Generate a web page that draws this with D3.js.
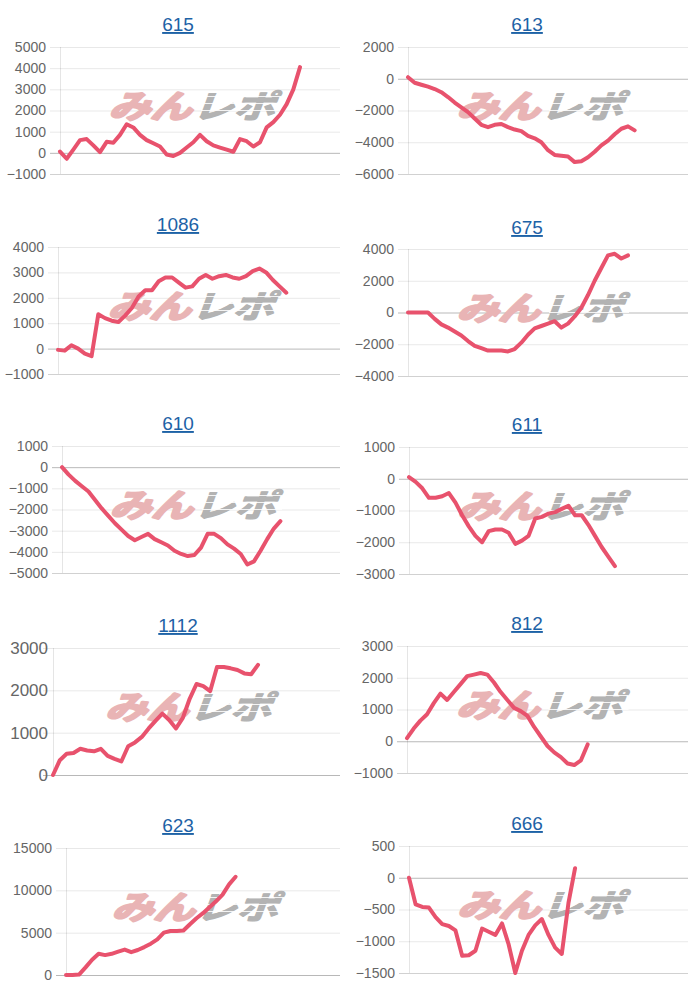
<!DOCTYPE html>
<html><head><meta charset="utf-8">
<script src="https://cdn.jsdelivr.net/npm/d3@7"></script>
<style>
html,body{margin:0;padding:0;background:#fff;}
svg{display:block;}
</style></head>
<body>
<svg id="c" width="700" height="1000"></svg>
<script>
// ---------- data ----------
const titles = ["615","613","1086","675","610","611","1112","812","623","666"];
const SLOTS = 43; // number of x-axis slots (labels) per chart

const values615 = [60,-280,150,600,650,350,30,520,480,850,1350,1200,850,600,450,300,-80,-150,0,250,500,850,550,350,250,150,50,650,550,300,500,1200,1450,1800,2300,3000,4050];
const values613 = [100,-250,-380,-500,-650,-850,-1150,-1500,-1800,-2100,-2500,-2900,-3050,-2900,-2850,-3050,-3200,-3300,-3600,-3750,-4000,-4500,-4800,-4850,-4900,-5250,-5200,-4950,-4600,-4200,-3900,-3500,-3150,-3000,-3250];
const values1086 = [-50,-80,130,0,-200,-300,1350,1200,1100,1050,1300,1600,2050,2300,2300,2650,2800,2800,2600,2400,2450,2750,2900,2750,2850,2900,2800,2750,2850,3050,3150,3000,2700,2450,2200];
const values675 = [0,0,0,0,-400,-750,-950,-1200,-1450,-1800,-2100,-2250,-2400,-2400,-2400,-2450,-2300,-1900,-1400,-1000,-850,-700,-550,-950,-700,-250,300,1100,2000,2800,3600,3700,3400,3600];
const values610 = [0,-350,-650,-900,-1150,-1550,-1950,-2300,-2650,-2950,-3250,-3450,-3300,-3150,-3400,-3550,-3700,-3950,-4100,-4200,-4150,-3800,-3150,-3150,-3350,-3650,-3850,-4100,-4600,-4450,-3950,-3400,-2900,-2550];
const values611 = [50,-100,-300,-600,-600,-550,-450,-750,-1150,-1500,-1800,-2000,-1650,-1600,-1600,-1700,-2050,-1950,-1800,-1250,-1200,-1100,-1050,-950,-850,-1150,-1150,-1450,-1800,-2150,-2450,-2750];
const values1112 = [0,350,500,520,620,580,560,620,450,380,320,680,770,900,1100,1280,1450,1300,1100,1350,1800,2150,2100,1980,2550,2550,2520,2480,2400,2380,2600];
const values812 = [100,400,650,850,1200,1500,1300,1550,1800,2050,2100,2150,2100,1850,1550,1300,1050,950,800,450,150,-150,-350,-500,-700,-750,-600,-100];
const values623 = [0,0,50,900,1800,2500,2350,2500,2750,3000,2700,2950,3300,3700,4200,5000,5200,5200,5250,6000,6700,7300,8000,8700,9500,10700,11600];
const values666 = [0,-420,-460,-470,-620,-730,-760,-830,-1230,-1220,-1150,-800,-850,-900,-720,-1050,-1500,-1150,-900,-750,-650,-900,-1100,-1200,-400,150];

const ticks615 = [-1000,0,1000,2000,3000,4000,5000];
const ticks613 = [-6000,-4000,-2000,0,2000];
const ticks1086 = [-1000,0,1000,2000,3000,4000];
const ticks675 = [-4000,-2000,0,2000,4000];
const ticks610 = [-5000,-4000,-3000,-2000,-1000,0,1000];
const ticks611 = [-3000,-2000,-1000,0,1000];
const ticks1112 = [0,1000,2000,3000];
const ticks812 = [-1000,0,1000,2000,3000];
const ticks623 = [0,5000,10000,15000];
const ticks666 = [-1500,-1000,-500,0,500];

const seriesList = [values615,values613,values1086,values675,values610,values611,values1112,values812,values623,values666];
const tickList = [ticks615,ticks613,ticks1086,ticks675,ticks610,ticks611,ticks1112,ticks812,ticks623,ticks666];

// ---------- layout ----------
const plotLeft = [60,408,58,408,62,409,53,407,66,409];
const plotTop  = [47,47,247,249,446,447,648,646,848,846];
const plotH = 127;
const tickFont = [14,14,14,14,14,14,17,14,14,14];
const labelGap = [14,14,14,14,14,14,5,14,14,14];
const titleY = [31,31,231,234,430,431,632,630,832,830];

const svg = d3.select("#c");
const lineColor = "#e8526d";

titles.forEach((t,i)=>{
  const col = i%2;
  const left = plotLeft[i];
  const right = col ? 688 : 340;
  const top = plotTop[i];
  const bottom = top + plotH;
  const ticks = tickList[i];
  const g = svg.append("g");

  const y = d3.scaleLinear().domain([d3.min(ticks), d3.max(ticks)]).range([bottom, top]);
  const x = d3.scaleLinear().domain([0, SLOTS-1]).range([left, right]);

  // title
  const cx = col ? 527 : 178;
  g.append("text").attr("x",cx).attr("y",titleY[i])
    .attr("text-anchor","middle")
    .attr("font-family","Liberation Sans, Arial, sans-serif")
    .attr("font-size",19).attr("fill","#1d62a6")
    .attr("text-decoration","underline")
    .text(t);

  // gridlines + tick labels
  const axis = d3.axisLeft(y).tickValues(ticks).tickFormat(d3.format("d"))
    .tickSize(-(right-left)).tickPadding(labelGap[i]);
  const ag = g.append("g").attr("transform",`translate(${left},0)`).call(axis);
  ag.select(".domain").remove();
  ag.selectAll(".tick line")
    .attr("x1",-10)
    .attr("stroke", d => d===0 ? "rgba(0,0,0,0.28)" : (d===d3.min(ticks) ? "rgba(0,0,0,0.18)" : "rgba(0,0,0,0.09)"))
    .attr("stroke-width",1);
  ag.selectAll(".tick text")
    .attr("fill","#666")
    .attr("font-family","Liberation Sans, Arial, sans-serif")
    .attr("font-size",tickFont[i]);
  // vertical axis line
  g.append("line").attr("x1",left+0.5).attr("x2",left+0.5).attr("y1",top).attr("y2",bottom)
    .attr("stroke","rgba(0,0,0,0.1)");

  // watermark
  const wx = (left+right)/2 - 3, wy = (top+bottom)/2 - 7;
  const wm = g.append("g").attr("transform",`translate(${wx},${wy})`);
  const wt = wm.append("text").attr("text-anchor","middle").attr("dominant-baseline","central")
    .attr("transform","scale(1.04,0.8) skewX(-16)")
    .attr("font-family","Noto Sans CJK JP")
    .attr("font-weight","bold").attr("font-size",40)
    .attr("stroke-linejoin","round");
  wt.append("tspan").attr("fill","#e9b4b5").attr("stroke","#e9b4b5").attr("stroke-width",3).text("みん");
  wt.append("tspan").attr("fill","#b3b3b3").attr("stroke","#b3b3b3").attr("stroke-width",1.6).text("レポ");
  [-7,0,7].forEach(dy=>{
    wm.append("line").attr("x1",4).attr("x2",84).attr("y1",dy).attr("y2",dy)
      .attr("stroke","#fff").attr("stroke-width",1.1).attr("opacity",0.85);
  });

  // line
  const line = d3.line().x((d,k)=>x(k)).y(d=>y(d));
  g.append("path").datum(seriesList[i]).attr("d",line)
    .attr("fill","none").attr("stroke",lineColor).attr("stroke-width",4)
    .attr("stroke-linejoin","round").attr("stroke-linecap","round");
});
</script>
</body></html>
